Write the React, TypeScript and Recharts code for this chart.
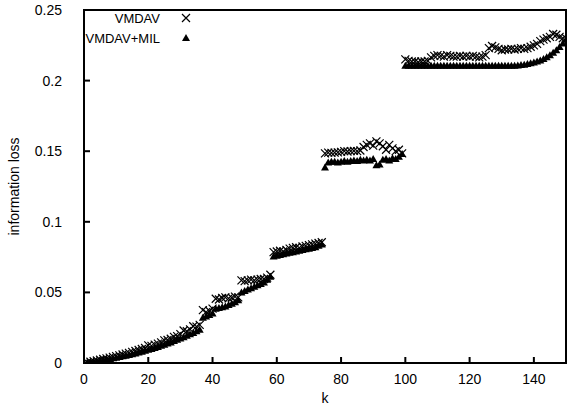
import React from "react";
import { ScatterChart, Scatter, XAxis, YAxis } from "recharts";

const FONT = "'Liberation Sans', Arial, Helvetica, sans-serif";

const X_TICKS = [0, 20, 40, 60, 80, 100, 120, 140];
const Y_TICKS = [0, 0.05, 0.1, 0.15, 0.2, 0.25];

// k runs 1..150, one point per k for each series
const K_VALUES = Array.from({ length: 150 }, (_, i) => i + 1);

// information loss, k = 1..150
const VMDAV = [
  0.0005, 0.0009, 0.0013, 0.0018, 0.0023, 0.0028, 0.0033, 0.0038, 0.0043, 0.0049,
  0.0054, 0.006, 0.0066, 0.0072, 0.0079, 0.0085, 0.0092, 0.0099, 0.0106, 0.0125,
  0.0121, 0.013, 0.0137, 0.0146, 0.016, 0.0163, 0.0172, 0.0185, 0.019, 0.0205,
  0.023, 0.0225, 0.0238, 0.026, 0.0258, 0.027, 0.0375, 0.036, 0.037, 0.0385,
  0.0455, 0.045, 0.046, 0.0465, 0.0458, 0.0462, 0.047, 0.0465, 0.0585, 0.058,
  0.0585, 0.059, 0.0585, 0.059, 0.0595, 0.0595, 0.0605, 0.0625, 0.0785, 0.079,
  0.0795, 0.079, 0.08, 0.081, 0.0815, 0.082, 0.0815, 0.0825, 0.083, 0.0835,
  0.084, 0.0845, 0.085, 0.0855, 0.1485, 0.149, 0.1488, 0.149, 0.1492, 0.1495,
  0.15, 0.1498, 0.15, 0.1502, 0.15, 0.1505, 0.153, 0.1545, 0.1555, 0.154,
  0.157, 0.1555, 0.1535, 0.151, 0.1545, 0.152, 0.15, 0.151, 0.1485, 0.215,
  0.214, 0.2135, 0.2135, 0.213, 0.2135, 0.2135, 0.214, 0.2165, 0.2175, 0.218,
  0.2175, 0.217, 0.218, 0.2175, 0.217, 0.217, 0.2175, 0.217, 0.2175, 0.217,
  0.2175, 0.217, 0.2165, 0.217, 0.218, 0.223, 0.2245, 0.2235, 0.2225, 0.2215,
  0.222, 0.222, 0.2225, 0.222, 0.2225, 0.223, 0.2225, 0.223, 0.224, 0.225,
  0.226, 0.228, 0.229, 0.23, 0.231, 0.233, 0.2325, 0.231, 0.23, 0.23,
];

const VMDAV_MIL = [
  0.0003, 0.0006, 0.0009, 0.0013, 0.0017, 0.0021, 0.0025, 0.0029, 0.0033, 0.0038,
  0.0042, 0.0047, 0.0052, 0.0057, 0.0062, 0.0068, 0.0074, 0.008, 0.0086, 0.0093,
  0.01, 0.0107, 0.0114, 0.0122, 0.013, 0.0138, 0.0146, 0.0155, 0.0164, 0.0173,
  0.0183, 0.0193, 0.0203, 0.0213, 0.0224, 0.0235, 0.032, 0.033, 0.034, 0.035,
  0.0385, 0.039, 0.0395, 0.04, 0.041, 0.042, 0.043, 0.0445, 0.05, 0.051,
  0.052, 0.053, 0.054, 0.055, 0.056, 0.057, 0.059, 0.061, 0.0755, 0.076,
  0.0765, 0.077, 0.0775, 0.078, 0.0785, 0.079, 0.0795, 0.08, 0.0805, 0.081,
  0.0815, 0.082, 0.083, 0.084, 0.1385, 0.142, 0.1425, 0.1425, 0.142, 0.1425,
  0.143, 0.1425, 0.143, 0.1435, 0.143, 0.144, 0.1435, 0.144, 0.1435, 0.1445,
  0.14, 0.1405, 0.144, 0.1445, 0.1435, 0.145, 0.1445, 0.146, 0.148, 0.2105,
  0.2105, 0.2105, 0.2105, 0.2105, 0.2105, 0.2105, 0.2105, 0.2105, 0.2105, 0.2105,
  0.2105, 0.2105, 0.2105, 0.2105, 0.2105, 0.2105, 0.2105, 0.2105, 0.2105, 0.2105,
  0.2105, 0.2105, 0.2105, 0.2105, 0.2105, 0.2105, 0.2105, 0.2105, 0.2105, 0.2105,
  0.2105, 0.2105, 0.2105, 0.2105, 0.2107, 0.211, 0.2113, 0.2117, 0.2122, 0.2128,
  0.2135, 0.2143, 0.2153, 0.2165, 0.218, 0.2197, 0.2215, 0.2238, 0.2262, 0.229,
];

const vmdavPoints = K_VALUES.map((k, i) => ({ k, loss: VMDAV[i] }));
const milPoints = K_VALUES.map((k, i) => ({ k, loss: VMDAV_MIL[i] }));

// plot box in page pixels (follows from the chart margins and axis sizes below)
const PLOT = { left: 84, top: 10, right: 566, bottom: 363 };
const LINE_W = 2;

// gnuplot-style point glyphs
function CrossMark(props: any) {
  const { cx, cy } = props;
  if (cx == null || cy == null) return null;
  const r = 4;
  return (
    <path
      d={`M${cx - r},${cy - r}L${cx + r},${cy + r}M${cx - r},${cy + r}L${cx + r},${cy - r}`}
      stroke="#000"
      strokeWidth={1.2}
      fill="none"
    />
  );
}

function TriangleMark(props: any) {
  const { cx, cy } = props;
  if (cx == null || cy == null) return null;
  return (
    <polygon
      points={`${cx},${cy - 4} ${cx - 4},${cy + 3} ${cx + 4},${cy + 3}`}
      fill="#000"
    />
  );
}

// ticks point inward like gnuplot; x/y arrive on the axis line since tickSize/tickMargin are 0
const TICK_LEN = 6;

function BottomTick(props: any) {
  const { x, y, payload } = props;
  return (
    <g>
      <rect x={x - LINE_W / 2} y={y - TICK_LEN} width={LINE_W} height={TICK_LEN} fill="#000" />
      <text x={x} y={y + 21} textAnchor="middle" fontFamily={FONT} fontSize={14} fill="#000">
        {payload.value}
      </text>
    </g>
  );
}

function LeftTick(props: any) {
  const { x, y, payload } = props;
  return (
    <g>
      <rect x={x} y={y - LINE_W / 2} width={TICK_LEN} height={LINE_W} fill="#000" />
      <text x={x - 22} y={y + 5} textAnchor="end" fontFamily={FONT} fontSize={14} fill="#000">
        {String(Number(payload.value.toFixed(2)))}
      </text>
    </g>
  );
}

function TopTick(props: any) {
  const { x, y } = props;
  return <rect x={x - LINE_W / 2} y={y} width={LINE_W} height={TICK_LEN} fill="#000" />;
}

function RightTick(props: any) {
  const { x, y } = props;
  return <rect x={x - TICK_LEN} y={y - LINE_W / 2} width={TICK_LEN} height={LINE_W} fill="#000" />;
}

export default function App() {
  return (
    <div style={{ position: "absolute", left: 0, top: 0, width: 567, height: 411, background: "#fff" }}>
      <ScatterChart
        width={567}
        height={411}
        margin={{ top: 10, right: 1, bottom: 0, left: 0 }}
      >
        <XAxis
          type="number"
          dataKey="k"
          domain={[0, 150]}
          ticks={X_TICKS}
          allowDataOverflow
          height={48}
          axisLine={false}
          tickLine={false}
          tickSize={0}
          tickMargin={0}
          tick={<BottomTick />}
          label={{ value: "k", position: "insideBottom", offset: 8, fill: "#000", fontSize: 14, fontFamily: FONT }}
        />
        <XAxis
          xAxisId="top"
          orientation="top"
          type="number"
          domain={[0, 150]}
          ticks={X_TICKS}
          allowDataOverflow
          height={0}
          axisLine={false}
          tickLine={false}
          tickSize={0}
          tickMargin={0}
          tick={<TopTick />}
        />
        <YAxis
          type="number"
          dataKey="loss"
          domain={[0, 0.25]}
          ticks={Y_TICKS}
          allowDataOverflow
          width={84}
          axisLine={false}
          tickLine={false}
          tickSize={0}
          tickMargin={0}
          tick={<LeftTick />}
          label={{
            value: "information loss",
            angle: -90,
            position: "insideLeft",
            offset: 14,
            fill: "#000",
            fontSize: 14,
            fontFamily: FONT,
            style: { textAnchor: "middle" },
          }}
        />
        <YAxis
          yAxisId="right"
          orientation="right"
          type="number"
          domain={[0, 0.25]}
          ticks={Y_TICKS}
          allowDataOverflow
          width={0}
          axisLine={false}
          tickLine={false}
          tickSize={0}
          tickMargin={0}
          tick={<RightTick />}
        />
        <Scatter name="VMDAV" data={vmdavPoints} shape={<CrossMark />} isAnimationActive={false} />
        <Scatter name="VMDAV+MIL" data={milPoints} shape={<TriangleMark />} isAnimationActive={false} />
      </ScatterChart>
      {/* frame and key, gnuplot layout: key text right-aligned then glyph */}
      <svg width={567} height={411} style={{ position: "absolute", left: 0, top: 0, pointerEvents: "none" }}>
        <rect
          x={PLOT.left}
          y={PLOT.top}
          width={PLOT.right - PLOT.left}
          height={PLOT.bottom - PLOT.top}
          fill="none"
          stroke="#000"
          strokeWidth={LINE_W}
        />
        <text x={160} y={23} textAnchor="end" fontFamily={FONT} fontSize={13} fill="#000">VMDAV</text>
        <CrossMark cx={186} cy={18} />
        <text x={160} y={43} textAnchor="end" fontFamily={FONT} fontSize={13} fill="#000">VMDAV+MIL</text>
        <TriangleMark cx={186} cy={38} />
      </svg>
    </div>
  );
}
